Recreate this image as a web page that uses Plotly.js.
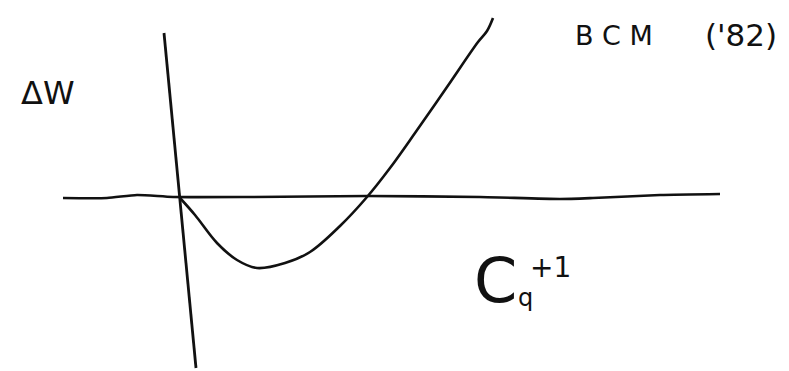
<!DOCTYPE html>
<html>
<head>
<meta charset="utf-8">
<script src="https://cdn.plot.ly/plotly-3.0.1.min.js"></script>
<style>
  html, body { margin: 0; padding: 0; background: #ffffff; }
  #chart { width: 789px; height: 371px; }
</style>
</head>
<body>
<div id="chart"></div>
<script>
// Sketch of the BCM ('82) curve: ΔW against C_q^{+1}, origin at the axis crossing.
const curveC  = [0, 15, 37, 57, 77, 105, 130, 160, 187, 210, 235, 267, 298, 307, 313];
const curveDW = [-1, -18, -46, -63, -71, -66, -55, -29, 0, 29, 64, 110, 155, 166, 179];

// Hand-drawn axes
const vAxisC  = [-16, -8, 0, 8, 16];
const vAxisDW = [164, 82, -1, -86, -171];
const hAxisC  = [-117, -73, -43, -7, 70, 187, 300, 380, 413, 480, 540];
const hAxisDW = [-1, -1, 2, 0, 0, 1, 0, -2, -1, 2, 3];

const ink = '#111111';
const hand = 'DejaVu Sans, sans-serif';

const traces = [
  { x: hAxisC, y: hAxisDW, mode: 'lines', line: { color: ink, width: 2.6, shape: 'spline', smoothing: 0.6 }, hoverinfo: 'skip' },
  { x: vAxisC, y: vAxisDW, mode: 'lines', line: { color: ink, width: 2.8 }, hoverinfo: 'skip' },
  { x: curveC, y: curveDW, mode: 'lines', line: { color: ink, width: 2.6, shape: 'spline', smoothing: 1 }, hoverinfo: 'skip' }
];

const layout = {
  width: 789, height: 371,
  margin: { l: 0, r: 0, t: 0, b: 0 },
  paper_bgcolor: '#ffffff', plot_bgcolor: '#ffffff',
  showlegend: false,
  xaxis: { range: [-180, 609], visible: false, fixedrange: true },
  yaxis: { range: [-174, 197], visible: false, fixedrange: true },
  annotations: [
    { x: -132, y: 104, text: 'ΔW', showarrow: false, font: { family: hand, size: 32, color: ink } },
    { x: 434, y: 162, text: 'B C M', showarrow: false, font: { family: hand, size: 27, color: ink } },
    { x: 561, y: 162, text: "('82)", showarrow: false, font: { family: hand, size: 31, color: ink } },
    { x: 315, y: -83, text: 'C', showarrow: false, font: { family: hand, size: 62, color: ink } },
    { x: 345, y: -101, text: 'q', showarrow: false, font: { family: hand, size: 24, color: ink } },
    { x: 370, y: -70, text: '+1', showarrow: false, font: { family: hand, size: 28, color: ink } }
  ]
};

Plotly.newPlot('chart', traces, layout, { displayModeBar: false, staticPlot: true });
</script>
</body>
</html>
